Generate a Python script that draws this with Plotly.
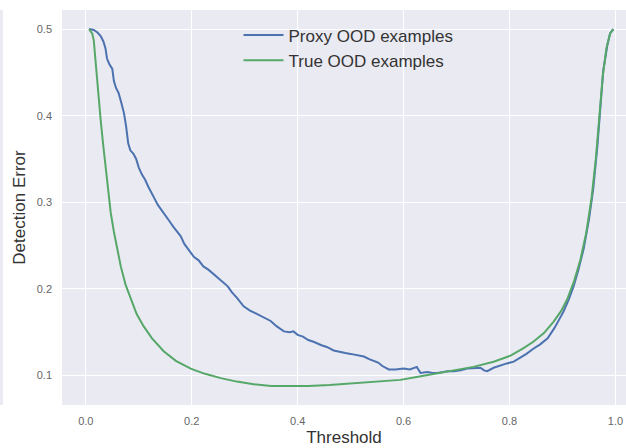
import plotly.graph_objects as go

proxy_x = [0.006, 0.015, 0.022, 0.028, 0.033, 0.037, 0.040, 0.044, 0.050, 0.053, 0.057, 0.062, 0.067, 0.072,
           0.076, 0.080, 0.084, 0.090, 0.095, 0.100, 0.106, 0.112, 0.118, 0.124, 0.130, 0.136, 0.142, 0.150,
           0.157, 0.165, 0.172, 0.179, 0.186, 0.195, 0.204, 0.213, 0.222, 0.232, 0.242, 0.250, 0.260, 0.268,
           0.276, 0.285, 0.298, 0.310, 0.320, 0.330, 0.340, 0.349, 0.360, 0.374, 0.385, 0.392, 0.400, 0.410,
           0.420, 0.430, 0.445, 0.455, 0.468, 0.480, 0.490, 0.500, 0.513, 0.525, 0.535, 0.543, 0.552, 0.560,
           0.572, 0.585, 0.600, 0.612, 0.620, 0.625, 0.632, 0.645, 0.655, 0.664, 0.675, 0.683, 0.695, 0.708,
           0.720, 0.735, 0.745, 0.752, 0.758, 0.770, 0.783, 0.795, 0.808, 0.820, 0.832, 0.845, 0.858, 0.872,
           0.885, 0.895, 0.902, 0.912, 0.921, 0.930, 0.940, 0.950, 0.958, 0.966, 0.972, 0.977, 0.985, 0.990,
           0.996]
proxy_y = [0.500, 0.499, 0.496, 0.492, 0.486, 0.478, 0.466, 0.460, 0.454, 0.440, 0.432, 0.426, 0.415, 0.403,
           0.388, 0.368, 0.360, 0.356, 0.350, 0.340, 0.332, 0.326, 0.318, 0.310, 0.304, 0.297, 0.292, 0.286,
           0.279, 0.272, 0.266, 0.261, 0.252, 0.245, 0.237, 0.233, 0.226, 0.222, 0.217, 0.212, 0.207, 0.203,
           0.196, 0.190, 0.180, 0.175, 0.172, 0.169, 0.166, 0.163, 0.157, 0.151, 0.150, 0.151, 0.147, 0.145,
           0.141, 0.139, 0.135, 0.133, 0.129, 0.127, 0.126, 0.125, 0.123, 0.122, 0.119, 0.117, 0.115, 0.111,
           0.107, 0.107, 0.108, 0.107, 0.109, 0.110, 0.103, 0.104, 0.103, 0.103, 0.104, 0.105, 0.105, 0.106,
           0.108, 0.109, 0.109, 0.106, 0.105, 0.109, 0.112, 0.114, 0.116, 0.120, 0.125, 0.131, 0.136, 0.143,
           0.155, 0.166, 0.174, 0.188, 0.203, 0.222, 0.246, 0.280, 0.315, 0.365, 0.412, 0.452, 0.482, 0.495,
           0.500]

true_x = [0.006, 0.012, 0.015, 0.018, 0.022, 0.028, 0.033, 0.038, 0.043, 0.047, 0.053, 0.060, 0.066, 0.075,
          0.085, 0.096, 0.109, 0.125, 0.147, 0.170, 0.198, 0.225, 0.255, 0.285, 0.317, 0.350, 0.381, 0.420,
          0.460, 0.500, 0.550, 0.594, 0.630, 0.670, 0.700, 0.732, 0.770, 0.802, 0.825, 0.845, 0.865, 0.883,
          0.897, 0.909, 0.922, 0.934, 0.945, 0.955, 0.963, 0.970, 0.976, 0.983, 0.990, 0.996]
true_y = [0.500, 0.495, 0.487, 0.465, 0.433, 0.395, 0.365, 0.338, 0.305, 0.288, 0.266, 0.244, 0.226, 0.205,
          0.188, 0.171, 0.157, 0.143, 0.128, 0.117, 0.108, 0.102, 0.097, 0.093, 0.090, 0.088, 0.088, 0.088,
          0.089, 0.091, 0.093, 0.095, 0.099, 0.103, 0.106, 0.110, 0.116, 0.123, 0.131, 0.139, 0.149, 0.162,
          0.174, 0.188, 0.209, 0.234, 0.265, 0.305, 0.350, 0.400, 0.445, 0.478, 0.495, 0.500]

x_ticks = [0.0, 0.2, 0.4, 0.6, 0.8, 1.0]
x_tick_labels = ["0.0", "0.2", "0.4", "0.6", "0.8", "1.0"]
y_ticks = [0.1, 0.2, 0.3, 0.4, 0.5]
y_tick_labels = ["0.1", "0.2", "0.3", "0.4", "0.5"]

BLUE = "#4C72B0"
GREEN = "#55A868"
FONT = "Liberation Sans, Arial, sans-serif"

fig = go.Figure()
fig.add_trace(go.Scatter(x=proxy_x, y=proxy_y, mode="lines", name="Proxy OOD examples",
                         line=dict(color=BLUE, width=2)))
fig.add_trace(go.Scatter(x=true_x, y=true_y, mode="lines", name="True OOD examples",
                         line=dict(color=GREEN, width=2)))

plot_w = 564
fig.add_shape(type="rect", xref="paper", yref="paper", x0=-62 / plot_w, x1=-59 / plot_w, y0=0, y1=1,
              fillcolor="#EAEAF2", line=dict(width=0), layer="below")

fig.update_layout(
    width=626, height=448,
    margin=dict(l=62, r=0, t=10, b=43),
    paper_bgcolor="white",
    plot_bgcolor="#EAEAF2",
    font=dict(family=FONT, color="#333333"),
    showlegend=True,
    legend=dict(x=0.313, y=0.981, xanchor="left", yanchor="top", bgcolor="rgba(0,0,0,0)",
                font=dict(size=17, color="#333333"), tracegroupgap=0, itemwidth=40),
    xaxis=dict(range=[-0.045, 1.02], tickvals=x_ticks, ticktext=x_tick_labels,
               showgrid=True, gridcolor="white", gridwidth=1, zeroline=False, showline=False,
               ticks="", ticklabelstandoff=8,
               tickfont=dict(size=11, color="#666666"),
               title=dict(text="Threshold", font=dict(size=17, color="#333333"), standoff=5)),
    yaxis=dict(range=[0.066, 0.522], tickvals=y_ticks, ticktext=y_tick_labels,
               showgrid=True, gridcolor="white", gridwidth=1, zeroline=False, showline=False,
               ticks="", ticklabelstandoff=9,
               tickfont=dict(size=11, color="#666666"),
               title=dict(text="Detection Error", font=dict(size=17, color="#333333"), standoff=6)),
)

fig.write_html("out.html")
